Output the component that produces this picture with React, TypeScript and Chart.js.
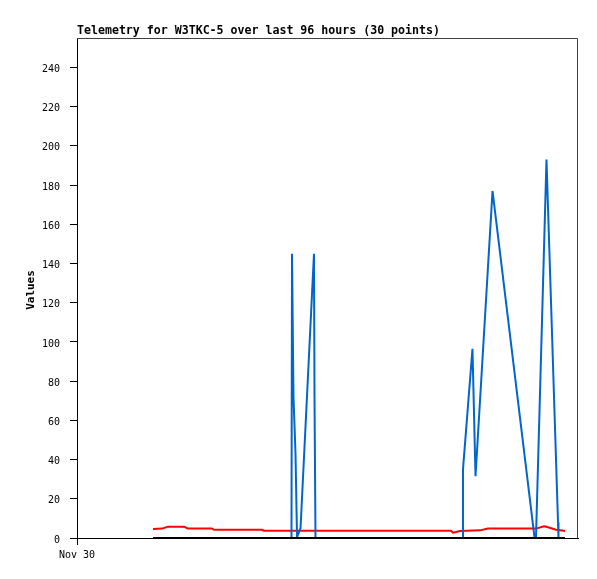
import React, { useEffect, useRef } from "react";
import { Chart, registerables } from "chart.js";

Chart.register(...registerables);

const titleText = "Telemetry for W3TKC-5 over last 96 hours (30 points)";
const yAxisTitle = "Values";

// x in hours since Nov 30 00:00 (axis spans 0..96 hours)
const xTickValues = [0];
const xTickLabels = ["Nov 30"];
const yTickValues = [0, 20, 40, 60, 80, 100, 120, 140, 160, 180, 200, 220, 240];

const redHours = [14.56, 16.29, 17.44, 20.5, 21.27, 25.87, 26.25, 35.45, 35.83, 71.66, 72.05, 73.39, 77.22, 78.75, 88.14, 89.49, 90.25, 91.78, 92.93, 93.51];
const redValues = [4.6, 4.8, 5.8, 5.8, 4.8, 4.8, 4.2, 4.2, 3.7, 3.7, 2.7, 3.6, 3.9, 4.8, 4.9, 6.0, 5.5, 4.2, 3.8, 3.6];

const blueHours = [14.56, 41.1, 41.2, 41.48, 41.87, 42.06, 42.16, 42.54, 42.83, 45.41, 45.51, 45.7, 73.87, 73.96, 75.78, 76.36, 79.62, 87.66, 87.95, 89.96, 92.17, 92.26, 93.51];
const blueValues = [0, 0, 145, 72, 43, 15, 0.5, 3, 5, 145, 72, 0, 0, 35, 96.5, 31.5, 177, 0.5, 0, 193, 8, 0, 0];

const blackHours = [14.56, 93.51];
const blackValues = [0, 0];

const toPoints = (xs: number[], ys: number[]) => xs.map((x, i) => ({ x, y: ys[i] }));

export default function App() {
  const ref = useRef<HTMLCanvasElement | null>(null);

  useEffect(() => {
    if (!ref.current) return;
    const decor = {
      id: "decor",
      afterDraw(chart: any) {
        const ctx = chart.ctx;
        const a = chart.chartArea;
        ctx.save();
        ctx.strokeStyle = "#404040";
        ctx.lineWidth = 1;
        ctx.beginPath();
        ctx.moveTo(a.left, a.top + 0.5);
        ctx.lineTo(a.right - 0.5, a.top + 0.5);
        ctx.lineTo(a.right - 0.5, a.bottom);
        ctx.stroke();
        ctx.fillStyle = "#000";
        ctx.font = 'bold 11.6px "DejaVu Sans Mono"';
        ctx.textAlign = "left";
        ctx.textBaseline = "alphabetic";
        ctx.fillText(titleText, 77, 34);
        ctx.translate(31.5, 290);
        ctx.rotate(-Math.PI / 2);
        ctx.font = 'bold 11px "DejaVu Sans Mono"';
        ctx.textAlign = "center";
        ctx.textBaseline = "middle";
        ctx.fillText(yAxisTitle, 0, 0);
        ctx.restore();
      },
    };
    const chart = new Chart(ref.current, {
      type: "line",
      data: {
        datasets: [
          {
            label: "black",
            data: toPoints(blackHours, blackValues),
            borderColor: "#000000",
            borderWidth: 2,
            pointRadius: 0,
            tension: 0,
            order: 0,
          },
          {
            label: "blue",
            data: toPoints(blueHours, blueValues),
            borderColor: "#0066cc",
            borderWidth: 2,
            pointRadius: 0,
            tension: 0,
            borderJoinStyle: "bevel",
            order: 1,
          },
          {
            label: "red",
            data: toPoints(redHours, redValues),
            borderColor: "#ff0000",
            borderWidth: 2,
            pointRadius: 0,
            tension: 0,
            borderJoinStyle: "bevel",
            order: 2,
          },
        ],
      },
      options: {
        animation: false,
        responsive: false,
        maintainAspectRatio: false,
        layout: { padding: { top: 38, right: 19, left: 0, bottom: 0 } },
        plugins: { legend: { display: false }, title: { display: false }, tooltip: { enabled: false } },
        scales: {
          x: {
            type: "linear",
            min: 0,
            max: 96,
            afterBuildTicks: (s: any) => {
              s.ticks = xTickValues.map((v) => ({ value: v }));
            },
            afterFit: (s: any) => {
              s.height = 41;
            },
            ticks: {
              autoSkip: false,
              maxRotation: 0,
              color: "#000",
              font: { family: '"DejaVu Sans Mono"', size: 10 },
              padding: 4,
              callback: (v: any) => {
                const i = xTickValues.indexOf(Number(v));
                return i >= 0 ? xTickLabels[i] : "";
              },
            },
            grid: { drawOnChartArea: false, drawTicks: true, tickLength: 7, color: "#000" },
            border: { display: true, color: "#000", width: 1 },
          },
          y: {
            type: "linear",
            min: 0,
            max: 255,
            afterBuildTicks: (s: any) => {
              s.ticks = yTickValues.map((v) => ({ value: v }));
            },
            afterFit: (s: any) => {
              s.width = 77;
            },
            ticks: {
              color: "#000",
              font: { family: '"DejaVu Sans Mono"', size: 10 },
              padding: 10,
              labelOffset: 2,
            },
            grid: { drawOnChartArea: false, drawTicks: true, tickLength: 7, color: "#000" },
            border: { display: true, color: "#000", width: 1 },
          },
        },
      },
      plugins: [decor],
    } as any);
    return () => chart.destroy();
  }, []);

  return (
    <div style={{ position: "fixed", left: 0, top: 0, width: 597, height: 579, background: "#fff" }}>
      <canvas ref={ref} width={597} height={579} style={{ display: "block", width: 597, height: 579 }} />
    </div>
  );
}
